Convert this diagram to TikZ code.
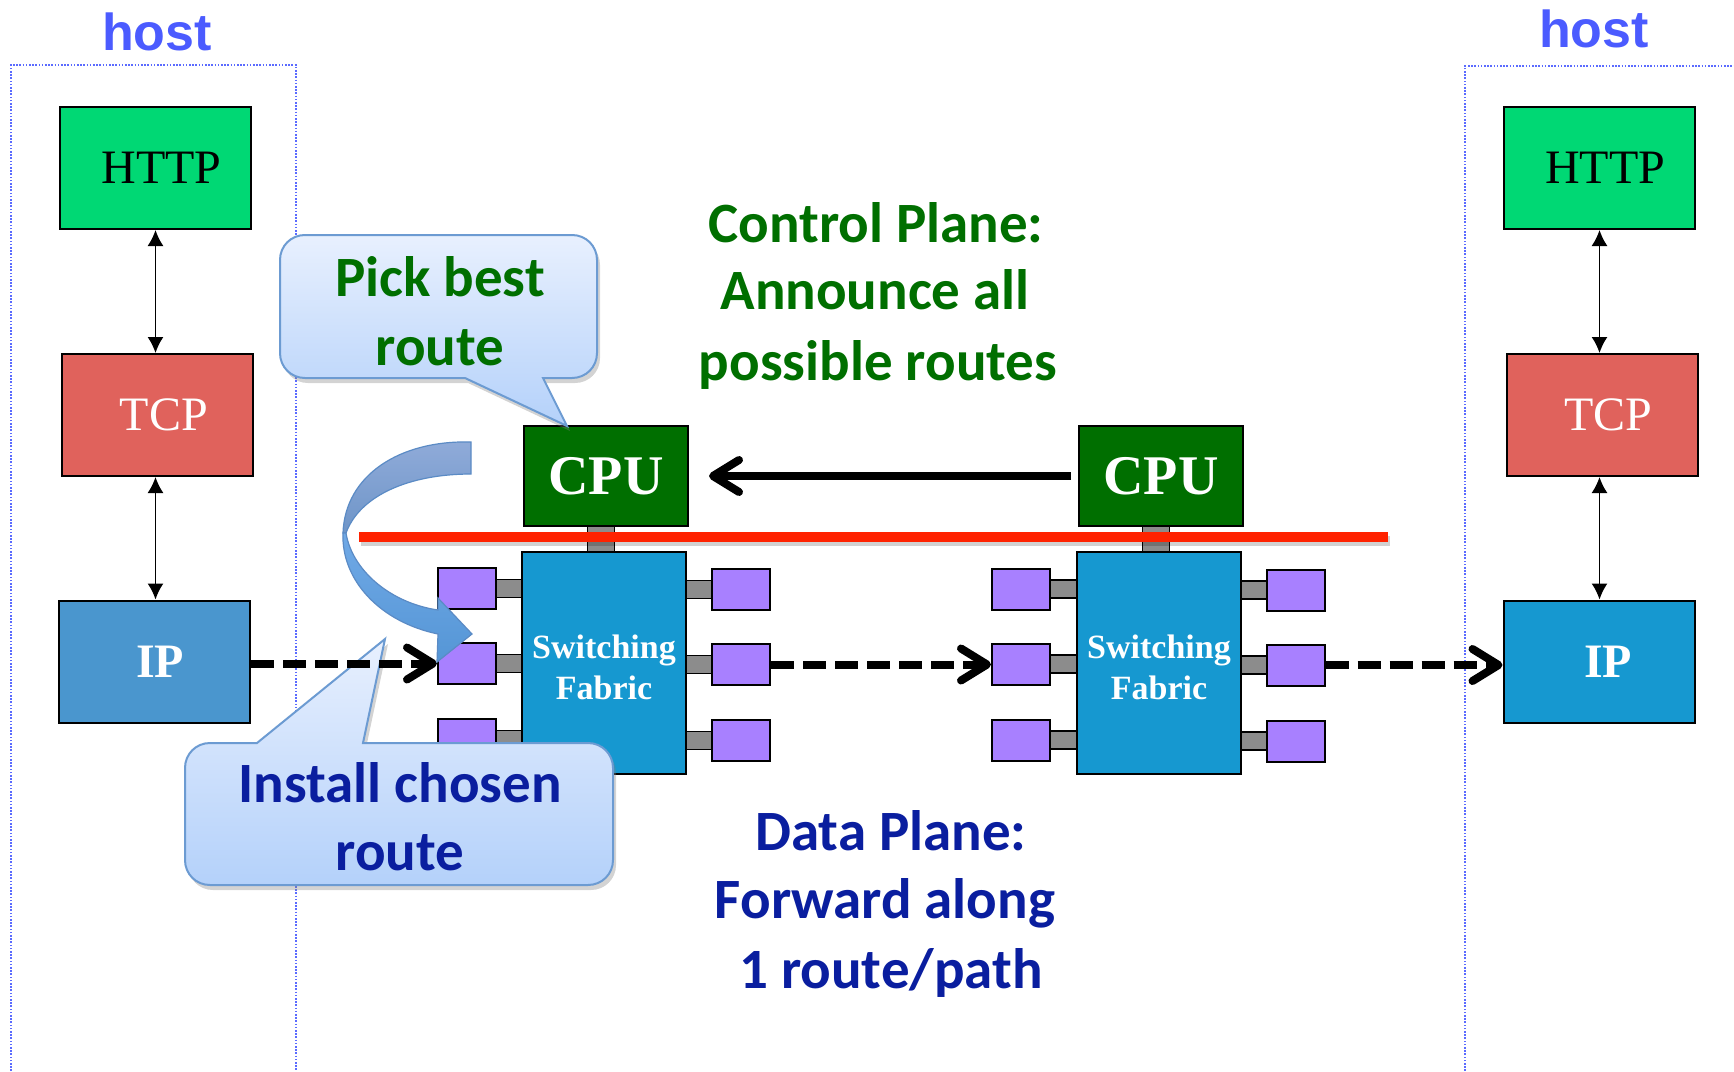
\documentclass[tikz,border=0pt]{standalone}
\usepackage{fontspec}
\newfontfamily\carlito{Carlito}
\newfontfamily\tnr{Liberation Serif}
\newfontfamily\arialf{Liberation Sans}
\usetikzlibrary{arrows.meta,shadows}
\definecolor{httpgreen}{HTML}{00D874}
\definecolor{tcpred}{HTML}{E0625C}
\definecolor{ipleft}{HTML}{4A96CE}
\definecolor{fabblue}{HTML}{1698D0}
\definecolor{cpugreen}{HTML}{006F00}
\definecolor{portpurple}{HTML}{A880FF}
\definecolor{linkgray}{HTML}{8C8C8C}
\definecolor{hostblue}{HTML}{4B5BFF}
\definecolor{dotblue}{HTML}{5B6BFF}
\definecolor{ctlgreen}{HTML}{006F00}
\definecolor{datablue}{HTML}{0A1E9F}
\definecolor{redline}{HTML}{FF2200}
\definecolor{calltop}{HTML}{E8F0FE}
\definecolor{callbot}{HTML}{B4D1FA}
\definecolor{callborder}{HTML}{6C9BD2}
\definecolor{arrbacktop}{HTML}{90ABD9}
\definecolor{arrbackbot}{HTML}{6E95C8}
\definecolor{arrfronttop}{HTML}{70A9E6}
\definecolor{arrfrontbot}{HTML}{5596D6}
\definecolor{arrborder}{HTML}{5B8BC5}
\begin{document}
\begin{tikzpicture}[x=1pt,y=-1pt,
  box/.style={draw=black, line width=2pt, inner sep=0pt, rectangle},
  layer/.style={box, minimum width=191pt, minimum height=122pt, font=\tnr\fontsize{48}{56}\selectfont},
  cpu/.style={box, fill=cpugreen, minimum width=164pt, minimum height=100pt, text=white, font=\tnr\bfseries\fontsize{56}{60}\selectfont},
  fabric/.style={box, fill=fabblue, minimum width=164pt, minimum height=222pt, text=white, align=center, font=\tnr\bfseries\fontsize{34}{41}\selectfont},
  port/.style={draw=black, line width=2pt, fill=portpurple, minimum width=58pt, minimum height=41pt, inner sep=0pt},
  glink/.style={draw=black, line width=1.5pt, fill=linkgray, minimum width=27pt, minimum height=18pt, inner sep=0pt},
  hostlbl/.style={anchor=base, text=hostblue, font=\arialf\bfseries\fontsize{52}{60}\selectfont},
  hostframe/.style={draw=dotblue, line width=1.6pt, dash pattern=on 1.6pt off 1.6pt},
  ctext/.style={anchor=base, font=\carlito\bfseries\fontsize{57}{67}\selectfont},
  dasharrow/.style={line width=8pt, dash pattern=on 23pt off 9pt, -{Straight Barb[length=26pt,width=32pt,round]}},
  thinarrow/.style={line width=1.6pt, {Latex[length=16pt,width=16pt]}-{Latex[length=16pt,width=16pt]}},
  callout/.style={draw=callborder, line width=2pt, top color=calltop, bottom color=callbot,
     drop shadow={shadow xshift=3pt, shadow yshift=-5pt, opacity=0.35}},
  carrow/.style={draw=arrborder, line width=1.2pt}
]
\useasboundingbox (0,0) rectangle (1734,1071);

% host frames
\draw[hostframe] (11,1071) -- (11,65) -- (296,65) -- (296,1071);
\draw[hostframe] (1465,1071) -- (1465,66) -- (1734,66);
\node[hostlbl] (hostL) at (157,50) {host};
\node[hostlbl] (hostR) at (1594,47) {host};

% host stacks
\node[layer, fill=httpgreen] (httpL) at (155.5,168) {\hspace*{12pt}HTTP};
\node[layer, fill=tcpred, text=white] (tcpL) at (157.5,415) {\hspace*{13pt}TCP};
\node[layer, fill=ipleft, text=white, font=\tnr\bfseries\fontsize{48}{56}\selectfont] (ipL) at (154.5,661.5) {\hspace*{11pt}IP};
\node[layer, fill=httpgreen] (httpR) at (1599.5,168) {\hspace*{11pt}HTTP};
\node[layer, fill=tcpred, text=white] (tcpR) at (1602,415) {\hspace*{12pt}TCP};
\node[layer, fill=fabblue, text=white, font=\tnr\bfseries\fontsize{48}{56}\selectfont] (ipR) at (1599,661.5) {\hspace*{18pt}IP};

\draw[thinarrow] (httpL.south) -- (httpL.south |- tcpL.north);
\draw[thinarrow] (httpL.south |- tcpL.south) -- (httpL.south |- ipL.north);
\draw[thinarrow] (httpR.south) -- (httpR.south |- tcpR.north);
\draw[thinarrow] (httpR.south |- tcpR.south) -- (httpR.south |- ipR.north);

% left switch
\node[glink, minimum height=27pt] (lcl) at (601,539) {};
\node[glink] (la1) at (509,588.5) {};
\node[glink] (la2) at (509,663.5) {};
\node[glink] (la3) at (509,739.5) {};
\node[glink] (lb1) at (699,589.5) {};
\node[glink] (lb2) at (699,664.5) {};
\node[glink] (lb3) at (699,740.5) {};
\node[port] (pL1) at (467,588.5) {};
\node[port] (pL2) at (467,663.5) {};
\node[port] (pL3) at (467,739.5) {};
\node[port] (pR1) at (741,589.5) {};
\node[port] (pR2) at (741,664.5) {};
\node[port] (pR3) at (741,740.5) {};
\node[fabric] (fabL) at (604,663) {\rule{0pt}{32pt}Switching\\Fabric};
\node[cpu] (cpuL) at (606,476) {CPU};

% right switch
\node[glink, minimum height=27pt] (rcl) at (1156,539) {};
\node[glink] (ra1) at (1063.5,589) {};
\node[glink] (ra2) at (1063.5,664) {};
\node[glink] (ra3) at (1063.5,740) {};
\node[glink] (rb1) at (1254,590) {};
\node[glink] (rb2) at (1254,665) {};
\node[glink] (rb3) at (1254,741) {};
\node[port] (qL1) at (1021,589) {};
\node[port] (qL2) at (1021,664) {};
\node[port] (qL3) at (1021,740) {};
\node[port] (qR1) at (1295.5,590) {};
\node[port] (qR2) at (1295.5,665) {};
\node[port] (qR3) at (1295.5,741) {};
\node[fabric] (fabR) at (1159,663) {\rule{0pt}{32pt}Switching\\Fabric};
\node[cpu] (cpuR) at (1161,476) {CPU};

% red separator
\draw[line width=10pt, black, opacity=0.18] (361,541) -- (1390,541);
\draw[line width=10pt, redline] (359,537) -- (1388,537);

% control plane arrow
\draw[line width=8pt, -{Straight Barb[length=26pt,width=32pt,round]}, shorten <=7pt, shorten >=20pt] (cpuR.west) -- (cpuR.west -| cpuL.east);

% texts
\node[ctext, text=ctlgreen] (cp1) at (876,242) {Control Plane:};
\node[ctext, text=ctlgreen] (cp2) at (875,309) {Announce all};
\node[ctext, text=ctlgreen] (cp3) at (878,380) {possible routes};
\node[ctext, text=datablue] (dp1) at (891,850) {Data Plane:};
\node[ctext, text=datablue] (dp2) at (885,918) {Forward along};
\node[ctext, text=datablue] (dp3) at (891,988) {1 route/path};

% callouts
\path[callout] (305,235) -- (572,235) .. controls (586,235) and (597,246) .. (597,260)
  -- (597,353) .. controls (597,367) and (586,378) .. (572,378) -- (543,378) -- (567,426) -- (465,378)
  -- (305,378) .. controls (291,378) and (280,367) .. (280,353) -- (280,260) .. controls (280,246) and (291,235) .. (305,235) -- cycle;
\node[ctext, text=ctlgreen] (pb1) at (440,296) {Pick best};
\node[ctext, text=ctlgreen] (pb2) at (440,365) {route};

\path[callout] (210,743) -- (257,743) -- (385,639) -- (363,743) -- (588,743) .. controls (602,743) and (613,754) .. (613,768)
  -- (613,860) .. controls (613,874) and (602,885) .. (588,885) -- (210,885) .. controls (196,885) and (185,874) .. (185,860)
  -- (185,768) .. controls (185,754) and (196,743) .. (210,743) -- cycle;
\node[ctext, text=datablue] (ic1) at (400,802) {Install chosen};
\node[ctext, text=datablue] (ic2) at (400,870) {route};

% data plane dashed arrows
\draw[dasharrow] (ipL.east |- pL2.west) -- (pL2.west);
\draw[dasharrow] (pR2.east) -- (pR2.east -| qL2.west);
\draw[dasharrow] (qR2.east) -- (qR2.east -| ipR.west);

% curved block arrow
\draw[carrow, top color=arrbacktop, bottom color=arrbackbot]
  (471,442) .. controls (400,440) and (345,475) .. (343,533)
  -- (346,533) .. controls (360,495) and (410,474) .. (471,474) -- cycle;
\draw[carrow, top color=arrfronttop, bottom color=arrfrontbot]
  (343,533) .. controls (341,580) and (380,622) .. (438,634)
  -- (437,662) -- (472,634) -- (438,598) -- (438,610)
  .. controls (390,603) and (352,570) .. (346,533) -- cycle;
\end{tikzpicture}
\end{document}
